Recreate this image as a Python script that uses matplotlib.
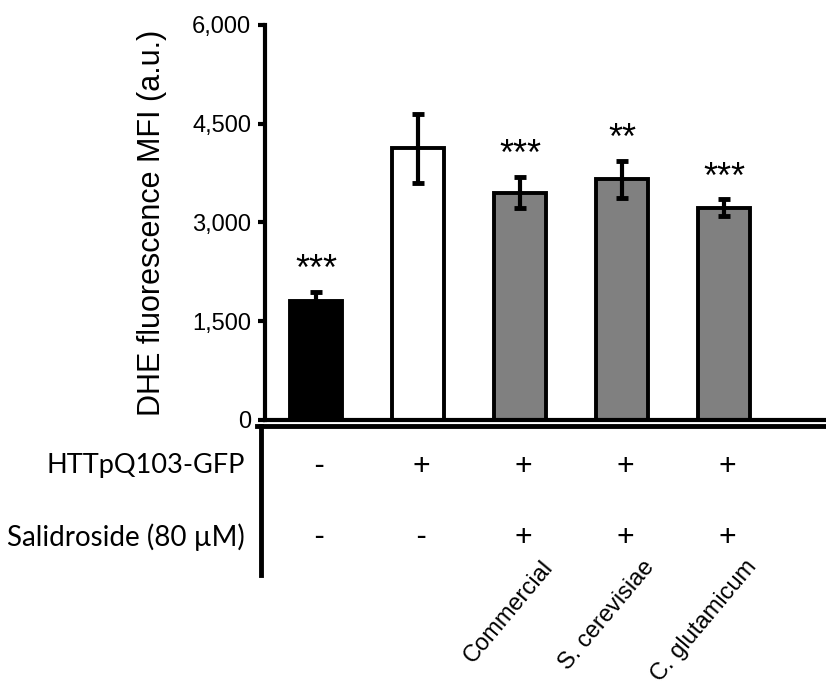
import numpy as np
import matplotlib.pyplot as plt
from matplotlib.ticker import FuncFormatter

## ------------------------------- DATA --------------------------------##
groups = ['Control', 'HTTpQ103', 'Commercial', 'S. cerevisiae', 'C. glutamicum']
mfi = [1810, 4125, 3455, 3655, 3225]          ## DHE fluorescence MFI (a.u.)
mfi_err = [140, 525, 230, 280, 125]
stars = ['***', '', '***', '**', '***']
httpq = ['-', '+', '+', '+', '+']
salid = ['-', '-', '+', '+', '+']
source_labels = ['', '', 'Commercial', 'S. cerevisiae', 'C. glutamicum']
bar_colors = ['black', 'white', '#808080', '#808080', '#808080']
yticks = [0, 1500, 3000, 4500, 6000]

## ------------------------------- FIGURE --------------------------------##
fig = plt.figure(figsize=(8.26, 6.86), dpi=100)
ax = fig.add_axes([0.3208, 0.3878, 0.6792, 0.5758])

x = np.arange(len(groups))
ax.bar(x, mfi, width=0.51, color=bar_colors, edgecolor='black', linewidth=2.8, zorder=2)
ax.errorbar(x, mfi, yerr=mfi_err, fmt='none', ecolor='black', elinewidth=3,
            capsize=4.5, capthick=3.5, zorder=3)

for xi, m, e, s in zip(x, mfi, mfi_err, stars):
    if s:
        ax.text(xi, m + e + 60, s, ha='center', va='bottom', fontsize=26,
                family='Liberation Sans')

ax.set_xlim(-0.5, 5.0)
ax.set_ylim(0, 6000)
ax.set_yticks(yticks)
ax.yaxis.set_major_formatter(FuncFormatter(lambda v, p: f'{int(v):,}'))
ax.set_xticks([])
for lab in ax.get_yticklabels():
    lab.set_family('Liberation Sans')
    lab.set_fontsize(17)
ax.tick_params(axis='y', direction='out', length=5, width=3, pad=5)

for side in ['top', 'right']:
    ax.spines[side].set_visible(False)
ax.spines['left'].set_linewidth(3)
ax.spines['bottom'].set_linewidth(3)

ax.set_ylabel('DHE fluorescence MFI (a.u.)', fontsize=22, family='Liberation Sans', labelpad=18)

## ---------------------------- TABLE BELOW ------------------------------##
trans = ax.get_xaxis_transform()
ax.plot([-0.58, 5.0], [-0.016, -0.016], color='black', lw=3.5, transform=trans, clip_on=False)
ax.plot([-0.535, -0.535], [-0.016, -0.393], color='black', lw=3.5, transform=trans, clip_on=False)

row_y = [-0.1165, -0.296]
ax.text(-0.7, row_y[0], 'HTTpQ103-GFP', ha='right', va='center', fontsize=19.5,
        family='Lato', transform=trans)
ax.text(-0.7, row_y[1], 'Salidroside (80 µM)', ha='right', va='center', fontsize=20,
        family='Lato', transform=trans)
for xi, a, b in zip(x, httpq, salid):
    ax.text(xi + 0.03, row_y[0], a, ha='center', va='center', fontsize=22, family='Lato', transform=trans)
    ax.text(xi + 0.03, row_y[1], b, ha='center', va='center', fontsize=22, family='Lato', transform=trans)

for xi, lab in zip(x, source_labels):
    if lab:
        ax.text(xi + 0.2, -0.345, lab, ha='right', va='top', rotation=50,
                rotation_mode='anchor', fontsize=17,
                family='Liberation Sans', transform=trans)

fig.savefig('out.png', dpi=100)
